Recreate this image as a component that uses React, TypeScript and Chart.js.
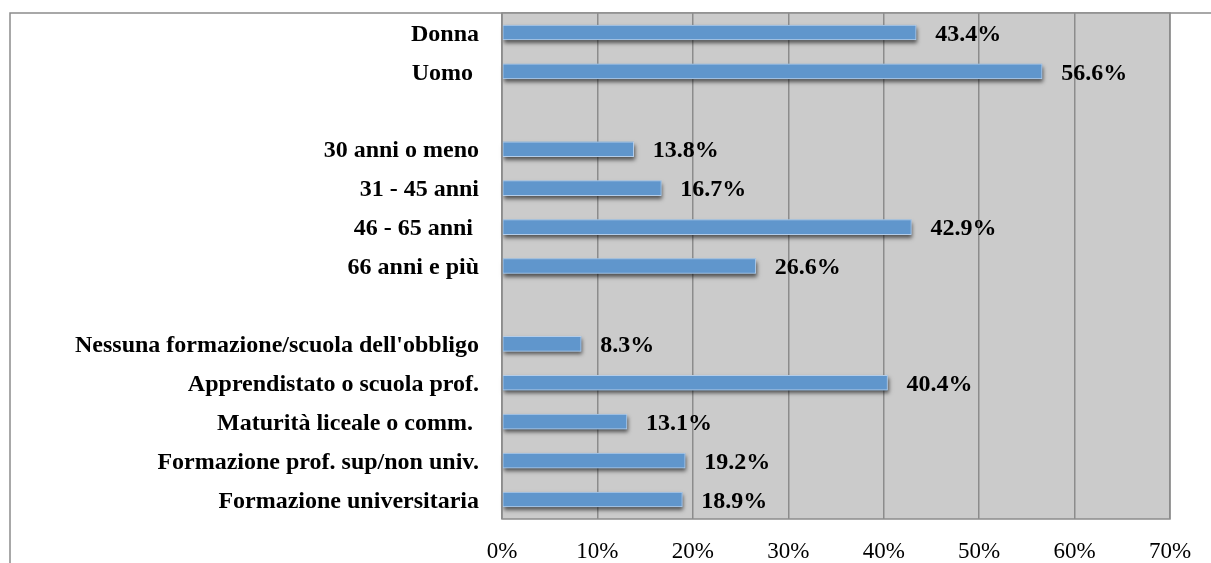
import React, { useEffect, useRef } from "react";
import { Chart, registerables } from "chart.js";

Chart.register(...registerables);

const categories: string[] = [
  "Donna",
  "Uomo ",
  "",
  "30 anni o meno",
  "31 - 45 anni",
  "46 - 65 anni ",
  "66 anni e più",
  "",
  "Nessuna formazione/scuola dell'obbligo",
  "Apprendistato o scuola prof.",
  "Maturità liceale o comm. ",
  "Formazione prof. sup/non univ.",
  "Formazione universitaria",
];

const values: (number | null)[] = [
  43.4, 56.6, null, 13.8, 16.7, 42.9, 26.6, null, 8.3, 40.4, 13.1, 19.2, 18.9,
];

const xTicks: number[] = [0, 10, 20, 30, 40, 50, 60, 70];

const FONT = "'Liberation Serif', 'Times New Roman', serif";
const BAR_COLOR = "#6096cc";
const GRID_COLOR = "#8c8c8c";
const PLOT_BG = "#cbcbcb";

const framePlugin = {
  id: "frame",
  beforeDraw(chart: any) {
    const { ctx, chartArea } = chart;
    ctx.save();
    ctx.fillStyle = "#ffffff";
    ctx.fillRect(0, 0, chart.width, chart.height);
    ctx.strokeStyle = GRID_COLOR;
    ctx.lineWidth = 1.5;
    ctx.beginPath();
    ctx.moveTo(10, chart.height + 5);
    ctx.lineTo(10, 13);
    ctx.lineTo(chart.width + 5, 13);
    ctx.stroke();
    ctx.fillStyle = PLOT_BG;
    ctx.fillRect(
      chartArea.left,
      chartArea.top,
      chartArea.right - chartArea.left,
      chartArea.bottom - chartArea.top
    );
    ctx.restore();
  },
  afterDraw(chart: any) {
    const { ctx, chartArea } = chart;
    ctx.save();
    ctx.strokeStyle = GRID_COLOR;
    ctx.lineWidth = 1.5;
    ctx.strokeRect(
      chartArea.left,
      chartArea.top,
      chartArea.right - chartArea.left,
      chartArea.bottom - chartArea.top
    );
    ctx.restore();
  },
};

const shadowPlugin = {
  id: "barShadow",
  beforeDatasetsDraw(chart: any) {
    const { ctx } = chart;
    const meta = chart.getDatasetMeta(0);
    ctx.save();
    ctx.shadowColor = "rgba(0,0,0,0.6)";
    ctx.shadowBlur = 4;
    ctx.shadowOffsetX = 1;
    ctx.shadowOffsetY = 3;
    ctx.fillStyle = BAR_COLOR;
    meta.data.forEach((el: any, i: number) => {
      if (values[i] == null) return;
      const p = el.getProps(["x", "y", "base", "height"], true);
      ctx.fillRect(p.base, p.y - p.height / 2, p.x - p.base, p.height);
    });
    ctx.restore();
  },
};

const valueLabelPlugin = {
  id: "valueLabels",
  afterDatasetsDraw(chart: any) {
    const { ctx } = chart;
    const meta = chart.getDatasetMeta(0);
    ctx.save();
    ctx.font = `bold 24px ${FONT}`;
    ctx.fillStyle = "#000000";
    ctx.textAlign = "left";
    ctx.textBaseline = "middle";
    meta.data.forEach((el: any, i: number) => {
      const v = values[i];
      if (v == null) return;
      const p = el.getProps(["x", "y"], true);
      ctx.fillText(v.toFixed(1) + "%", p.x + 19, p.y + 2);
    });
    ctx.restore();
  },
};

export default function App() {
  const canvasRef = useRef<HTMLCanvasElement | null>(null);

  useEffect(() => {
    if (!canvasRef.current) return;
    const chart = new Chart(canvasRef.current, {
      type: "bar",
      data: {
        labels: categories,
        datasets: [
          {
            data: values as any,
            backgroundColor: BAR_COLOR,
            borderColor: "#b4cde9",
            borderWidth: 1,
            borderSkipped: false,
            barThickness: 15,
          },
        ],
      },
      options: {
        indexAxis: "y",
        responsive: false,
        animation: false,
        events: [],
        layout: { padding: { top: 13, right: 41, bottom: 0, left: 0 } },
        plugins: {
          legend: { display: false },
          tooltip: { enabled: false },
          title: { display: false },
        },
        scales: {
          x: {
            type: "linear",
            min: 0,
            max: 70,
            afterBuildTicks(scale: any) {
              scale.ticks = xTicks.map((v) => ({ value: v }));
            },
            afterFit(scale: any) {
              scale.height = 44;
              scale.paddingLeft = 0;
              scale.paddingRight = 0;
            },
            ticks: {
              callback: (v: any) => v + "%",
              color: "#000000",
              font: { family: FONT, size: 23, weight: "normal" },
              padding: 19,
              maxRotation: 0,
              autoSkip: false,
            },
            grid: {
              color: GRID_COLOR,
              lineWidth: 1.5,
              drawTicks: false,
            },
            border: { display: false },
          },
          y: {
            type: "category",
            afterFit(scale: any) {
              scale.width = 502;
              scale.paddingTop = 0;
              scale.paddingBottom = 0;
            },
            ticks: {
              color: "#000000",
              font: { family: FONT, size: 24, weight: "bold" },
              padding: 23,
              labelOffset: 2,
              autoSkip: false,
            },
            grid: { display: false, drawTicks: false },
            border: { display: false },
          },
        },
      },
      plugins: [framePlugin, shadowPlugin, valueLabelPlugin],
    });
    return () => chart.destroy();
  }, []);

  return (
    <div style={{ position: "fixed", left: 0, top: 0, width: 1211, height: 563 }}>
      <canvas ref={canvasRef} width={1211} height={563} style={{ display: "block" }} />
    </div>
  );
}
